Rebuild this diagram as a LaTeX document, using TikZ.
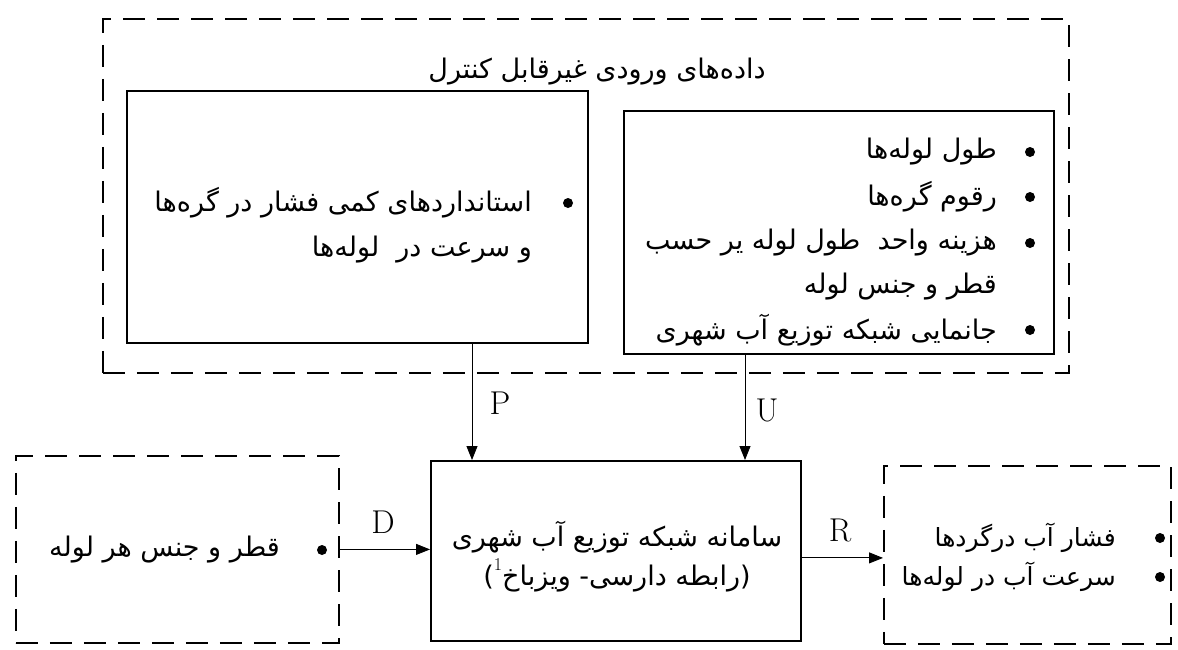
\documentclass[tikz,border=0pt]{standalone}
\usepackage{fontspec}
\newfontfamily\fa[Script=Arabic]{DejaVu Sans}
\TeXXeTstate=1
\usetikzlibrary{arrows.meta}
\newcommand\RL[1]{{\fa\beginR #1\endR}}
\begin{document}
\begin{tikzpicture}[x=1pt,y=-1pt,
  solidbox/.style={draw, line width=1.8pt, rectangle, inner sep=0pt, anchor=north west},
  dashbox/.style={draw, line width=1.8pt, dash pattern=on 22pt off 12pt, rectangle, inner sep=0pt, anchor=north west},
  conn/.style={line width=0.9pt, -{Triangle[length=14pt,width=11pt]}},
  bul/.style={circle, fill, inner sep=0pt, minimum size=10pt},
  fatxt/.style={font=\fa\fontsize{27}{32}\selectfont, inner sep=0pt},
  smtxt/.style={font=\fa\fontsize{25}{30}\selectfont, inner sep=0pt},
  lat/.style={font=\fontsize{33}{36}\selectfont, inner sep=0pt}]
\useasboundingbox (0,0) rectangle (1178,649);
% outer dashed frame
\node[dashbox, minimum width=966pt, minimum height=354pt] (outer) at (102,18) {};
\node[fatxt] (title) at (597,72) {\RL{داده‌های ورودی غیرقابل کنترل}};
% left solid box
\node[solidbox, minimum width=461pt, minimum height=252pt] (lbox) at (126,90) {};
\node[bul] (lb1) at (568,203) {};
\node[fatxt, anchor=east] (lt1) at (532,203) {\RL{استانداردهای کمی فشار در گره‌ها}};
\node[fatxt, anchor=east] (lt2) at (532,250) {\RL{و سرعت در\ \ لوله‌ها}};
% right solid box
\node[solidbox, minimum width=430pt, minimum height=243pt] (rbox) at (623,110) {};
\node[bul] (rb1) at (1030,152) {};
\node[bul] (rb2) at (1030,197) {};
\node[bul] (rb3) at (1030,243) {};
\node[bul] (rb4) at (1030,330) {};
\node[fatxt, anchor=east] (rt1) at (997,152) {\RL{طول لوله‌ها}};
\node[fatxt, anchor=east] (rt2) at (997,197) {\RL{رقوم گره‌ها}};
\node[fatxt, anchor=east] (rt3) at (997,243) {\RL{هزینه واحد\ \ طول لوله یر حسب}};
\node[fatxt, anchor=east] (rt4) at (997,287) {\RL{قطر و جنس لوله}};
\node[fatxt, anchor=east] (rt5) at (997,330) {\RL{جانمایی شبکه توزیع آب شهری}};
% main box
\node[solidbox, minimum width=370pt, minimum height=180pt] (main) at (430,460) {};
\node[fatxt] (mt1) at (617,537) {\RL{سامانه شبکه توزیع آب شهری}};
\node[fatxt] (mt2) at (617,575) {\RL{(رابطه دارسی- ویزباخ\raisebox{0.55em}{\fontspec{Latin Modern Roman}\fontsize{18}{18}\selectfont 1})}};
% left dashed box
\node[dashbox, minimum width=323pt, minimum height=187pt] (lin) at (15,455) {};
\node[fatxt, anchor=east] (dt) at (280,550) {\RL{قطر و جنس هر لوله}};
\node[bul] (db) at (322,550) {};
% right dashed box
\node[dashbox, minimum width=287pt, minimum height=178pt] (rout) at (883,465) {};
\node[smtxt, anchor=east] (ot1) at (1116,538) {\RL{فشار آب درگردها}};
\node[smtxt, anchor=east] (ot2) at (1116,577) {\RL{سرعت آب در لوله‌ها}};
\node[bul] (ob1) at (1160,538) {};
\node[bul] (ob2) at (1160,577) {};
% connectors
\path (lbox.south west) ++(346,0) coordinate (ps);
\path (rbox.south west) ++(122,0) coordinate (us);
\draw[conn] (ps) -- (ps |- main.north);
\draw[conn] (us) -- (us |- main.north);
\draw[conn] (lin.east) -- (lin.east -| main.west);
\draw[conn] ([yshift=-7pt]main.east) -- ([yshift=-7pt]main.east -| rout.west);
\node[lat] (P) at (500,403) {P};
\node[lat] (U) at (767,410) {U};
\node[lat] (D) at (383,522) {D};
\node[lat] (R) at (840,530) {R};
\end{tikzpicture}
\end{document}
